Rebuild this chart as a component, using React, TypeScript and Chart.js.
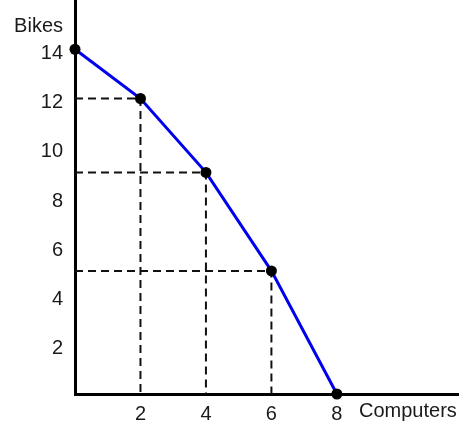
import React, { useEffect, useRef } from "react";
import { Chart, registerables, LineController } from "chart.js";

Chart.register(...registerables);

// keep the plot area flush with the canvas top (no automatic overflow padding)
(LineController.prototype as any).getMaxOverflow = function () {
  return 0;
};

const computers = [0, 2, 4, 6, 8];
const bikes = [14, 12, 9, 5, 0];
const xTickValues = [2, 4, 6, 8];
const yTickValues = [2, 4, 6, 8, 10, 12, 14];
const xAxisLabel = "Computers";
const yAxisLabel = "Bikes";

const FONT = "Arial, 'Liberation Sans', sans-serif";
const TEXT = "#1a1a1a";

export default function App() {
  const ref = useRef<HTMLCanvasElement | null>(null);

  useEffect(() => {
    if (!ref.current) return;
    const ppf = computers.map((c, i) => ({ x: c, y: bikes[i] }));
    const guides = computers
      .map((c, i) => ({ c, b: bikes[i] }))
      .filter((p) => p.c > 0 && p.b > 0)
      .map((p) => ({
        type: "line" as const,
        data: [
          { x: 0, y: p.b },
          { x: p.c, y: p.b },
          { x: p.c, y: 0 },
        ],
        borderColor: "#111",
        borderWidth: 2,
        borderDash: [8, 5],
        pointRadius: 0,
        fill: false,
        clip: false as any,
        tension: 0,
        order: 2,
      }));

    const labelsPlugin = {
      id: "axisTitles",
      afterDraw(chart: any) {
        const ctx = chart.ctx;
        ctx.save();
        ctx.fillStyle = TEXT;
        ctx.font = `20px ${FONT}`;
        ctx.textBaseline = "alphabetic";
        ctx.textAlign = "right";
        ctx.fillText(yAxisLabel, 63, 32);
        ctx.textAlign = "left";
        ctx.fillText(xAxisLabel, 359, 417);
        ctx.restore();
      },
    };

    const chart = new Chart(ref.current, {
      type: "line",
      data: {
        datasets: [
          {
            data: ppf,
            borderColor: "#0000ee",
            borderWidth: 3,
            pointRadius: 5.5,
            pointBackgroundColor: "#000",
            pointBorderColor: "#000",
            pointBorderWidth: 0,
            fill: false,
            clip: false as any,
            tension: 0,
            order: 1,
          },
          ...guides,
        ] as any,
      },
      options: {
        animation: false,
        responsive: false,
        layout: { padding: { left: 0, right: 17, top: 0, bottom: 0 } },
        plugins: {
          legend: { display: false },
          tooltip: { enabled: false },
        },
        scales: {
          x: {
            type: "linear",
            min: 0,
            max: 11.7,
            grid: { display: false },
            border: { display: true, color: "#000", width: 3 },
            ticks: {
              color: TEXT,
              font: { size: 20, family: FONT },
              padding: 0,
              maxRotation: 0,
            },
            afterBuildTicks: (scale: any) => {
              scale.ticks = xTickValues.map((v) => ({ value: v }));
            },
            afterFit: (scale: any) => {
              scale.height = 38;
              scale.paddingLeft = 0;
              scale.paddingRight = 0;
              scale.paddingTop = 0;
              scale.paddingBottom = 0;
            },
          },
          y: {
            type: "linear",
            min: 0,
            max: 16,
            grid: { display: false },
            border: { display: true, color: "#000", width: 3 },
            ticks: {
              color: TEXT,
              font: { size: 20, family: FONT },
              padding: 4,
              labelOffset: 4,
            },
            afterBuildTicks: (scale: any) => {
              scale.ticks = yTickValues.map((v) => ({ value: v }));
            },
            afterFit: (scale: any) => {
              scale.width = 75;
              scale.paddingLeft = 0;
              scale.paddingRight = 0;
              scale.paddingTop = 0;
              scale.paddingBottom = 0;
            },
          },
        },
      },
      plugins: [labelsPlugin],
    });
    return () => chart.destroy();
  }, []);

  return (
    <div
      style={{
        position: "fixed",
        left: 0,
        top: 0,
        width: 475,
        height: 432,
        background: "#fff",
      }}
    >
      <canvas ref={ref} width={475} height={432} />
    </div>
  );
}
